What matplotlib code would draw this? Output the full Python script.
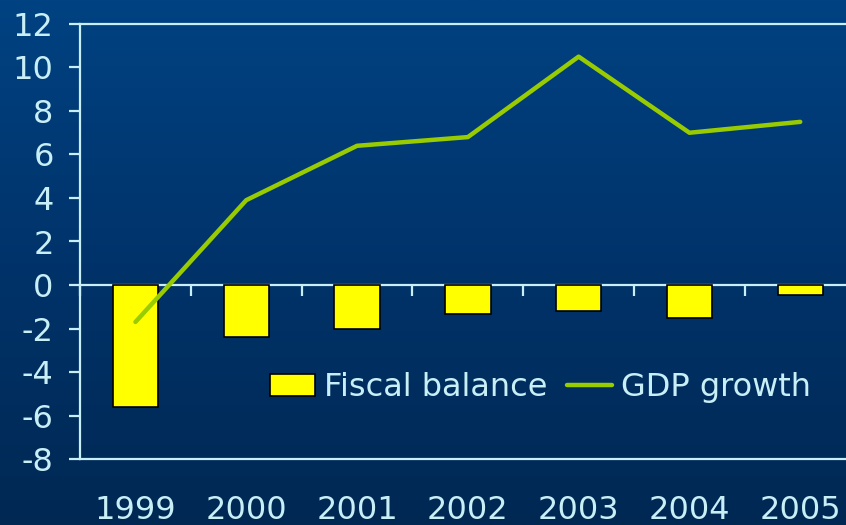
import numpy as np
import matplotlib
matplotlib.use("Agg")
import matplotlib.pyplot as plt
from matplotlib.patches import Patch
from matplotlib.lines import Line2D
from matplotlib.colors import LinearSegmentedColormap

# --- Data ---
years = ["1999", "2000", "2001", "2002", "2003", "2004", "2005"]
fiscal_balance = [-5.6, -2.4, -2.0, -1.35, -1.2, -1.5, -0.45]
gdp_growth = [-1.7, 3.9, 6.4, 6.8, 10.5, 7.0, 7.5]
y_ticks = [-8, -6, -4, -2, 0, 2, 4, 6, 8, 10, 12]

TXT = "#c8eef6"
BAR = "#ffff00"
LINE = "#99cc00"
FS = 23

plt.rcParams["font.family"] = "DejaVu Sans"

fig = plt.figure(figsize=(8.46, 5.25), dpi=100)

# --- Background gradient ---
bg = fig.add_axes([0, 0, 1, 1], zorder=-10)
grad = np.linspace(0, 1, 256).reshape(-1, 1)
cmap = LinearSegmentedColormap.from_list("bg", ["#004282", "#00336a", "#002853"])
bg.imshow(grad, aspect="auto", cmap=cmap, extent=[0, 1, 0, 1], origin="upper")
bg.set_axis_off()

# --- Main axes ---
ax = fig.add_axes([0.0946, 0.1257, 0.9168, 0.8286])
ax.patch.set_alpha(0)
x = np.arange(len(years))

ax.bar(x, fiscal_balance, width=0.41, color=BAR, edgecolor="black",
       linewidth=1.2, zorder=2)
ax.plot(x, gdp_growth, color=LINE, linewidth=3.2, solid_capstyle="round",
        zorder=3)

ax.set_xlim(-0.5, len(years) - 0.5)
ax.set_ylim(-8, 12)
ax.set_yticks(y_ticks)
ax.set_yticklabels([str(v) for v in y_ticks])
ax.set_xticks(x)
ax.set_xticklabels(years)

for side in ["left", "top", "bottom"]:
    ax.spines[side].set_color(TXT)
    ax.spines[side].set_linewidth(1.6)
ax.spines["right"].set_visible(False)

ax.tick_params(axis="y", colors=TXT, labelsize=FS, length=8, width=1.6,
               direction="out", pad=11)
ax.tick_params(axis="x", colors=TXT, labelsize=FS, length=0, pad=26)

# zero line with category separator ticks
zero = ax.secondary_xaxis(0.4)
zero.set_xticks(np.arange(len(years) + 1) - 0.5)
zero.set_xticklabels([])
zero.tick_params(colors=TXT, length=8, width=1.6, direction="out")
zero.spines["bottom"].set_color(TXT)
zero.spines["bottom"].set_linewidth(1.6)

# --- Legend ---
handles = [Patch(facecolor=BAR, edgecolor="black", linewidth=1.2),
           Line2D([0], [0], color=LINE, linewidth=3.2, solid_capstyle="round")]
fig.legend(handles, ["Fiscal balance", "GDP growth"], ncol=2, frameon=False,
           loc="center left", bbox_to_anchor=(0.319, 0.261), fontsize=FS,
           labelcolor=TXT, handlelength=1.4, handletextpad=0.3,
           columnspacing=0.6, borderpad=0, borderaxespad=0)

fig.savefig("out.png", dpi=100)
